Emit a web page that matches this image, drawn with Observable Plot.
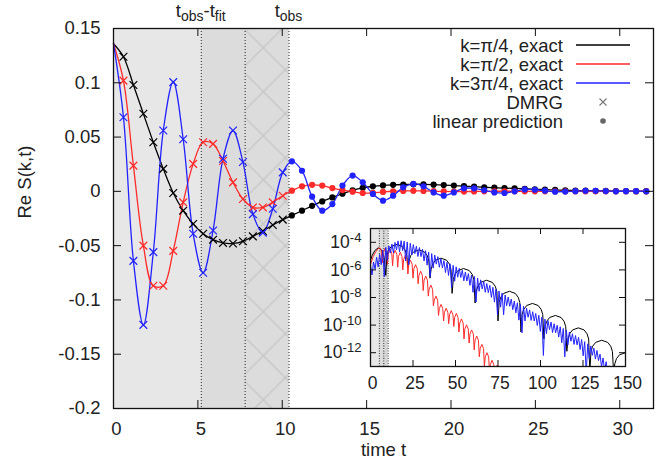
<!DOCTYPE html>
<html><head><meta charset="utf-8">
<script src="https://cdn.jsdelivr.net/npm/d3@7"></script>
<script src="https://cdn.jsdelivr.net/npm/@observablehq/plot@0.6"></script>
<style>
body{margin:0;background:#fff}
#wrap{position:relative;width:668px;height:468px;overflow:hidden;background:#fff}
#mainBox{position:absolute;left:0;top:0;width:668px;height:468px}
#insetBox{position:absolute;left:300px;top:220px;width:360px;height:180px}
</style>
</head><body>
<div id="wrap"><div id="mainBox"></div><div id="insetBox"></div></div>
<script>
// ---------------- data: main panel ----------------
const seriesNames = ["k=π/4", "k=π/2", "k=3π/4"];
const legendExtra = ["DMRG", "linear prediction"];
const xTitle = "time t";
const yTitle = "Re S(k,t)";
const xTicks = [0, 5, 10, 15, 20, 25, 30];
const yTicks = [0.15, 0.1, 0.05, 0, -0.05, -0.1, -0.15, -0.2];
const tObs = 10.4;      // t_obs
const tFit = 5.2;       // t_fit
const tHatch = 7.8;     // start of hatched window
const startValue = 0.136; // S(k,0)

const dmrgT = [0.59,1.18,1.77,2.36,2.95,3.54,4.13,4.72,5.31,5.9,6.49,7.08,7.67,8.26,8.85,9.44,10.03];
const lpT = [10.57,11.17,11.77,12.37,12.97,13.57,14.17,14.77,15.37,15.97,16.57,17.17,17.77,18.37,18.97,19.57,20.17,20.77,21.37,21.97,22.57,23.17,23.77,24.37,24.97,25.57,26.17,26.77,27.37,27.97,28.57,29.17,29.77,30.37,30.97,31.57];

const dmrgBlack = [0.124,0.098,0.0715,0.0452,0.0207,-0.0015,-0.0178,-0.030,-0.039,-0.0445,-0.0475,-0.048,-0.046,-0.0415,-0.0365,-0.031,-0.026];
const dmrgRed   = [0.102,0.0237,-0.050,-0.087,-0.087,-0.0548,-0.0101,0.0253,0.0452,0.0437,0.028,0.0083,-0.007,-0.0148,-0.0148,-0.0101,-0.004];
const dmrgBlue  = [0.0683,-0.064,-0.123,-0.056,0.056,0.1006,0.048,-0.039,-0.075,-0.036,0.030,0.056,0.027,-0.021,-0.038,-0.016,0.0175];

const lpBlack = [-0.0222,-0.0178,-0.0133,-0.0093,-0.0056,-0.0022,0.0010,0.0033,0.0046,0.0055,0.0060,0.0063,0.0065,0.0065,0.0062,0.0058,0.0053,0.0048,0.0043,0.0038,0.0034,0.0030,0.0027,0.0023,0.0019,0.0016,0.0013,0.0010,0.0008,0.0006,0.0005,0.0004,0.0003,0.0003,0.0002,0.0002];
const lpRed = [0.0006,0.0046,0.006,0.0053,0.003,0.0012,-0.0003,-0.0015,-0.0013,-0.0005,0.0001,0.0004,0.0005,0.0004,0.0002,-0.0001,-0.0002,-0.0002,-0.0001,0,0.0001,0.0001,0.0001,0,0,0,0,0,0,0,0,0,0,0,0,0];
const lpBlue = [0.0277,0.019,-0.0049,-0.0178,-0.0117,0.0053,0.0145,0.0083,-0.0024,-0.0086,-0.004,0.0037,0.0068,0.0046,-0.001,-0.004,-0.001,0.0028,0.0028,0.001,-0.001,-0.0015,0,0.0018,0.0015,0.0006,-0.0003,-0.0002,0.0002,0.0005,0.0005,0.0003,0,0.0002,0.0002,0];

// ---------------- data: inset (t, log10 value) ----------------
const insetXTicks = [0, 25, 50, 75, 100, 125, 150];
const insetYExp = [-4, -6, -8, -10, -12];
const insetBlack = [[0,-5.3],[1,-4.95],[2.5,-4.6],[4.5,-4.4],[6.5,-4.55],[8,-5.1],[9,-6.4],
[9.65,-4.96],[10.56,-4.58],[12.25,-4.3],[15.5,-4.15],[18.75,-4.3],[20.44,-4.58],[21.35,-4.96],[22,-5.8],
[22.65,-5.36],[23.56,-4.98],[25.25,-4.7],[28.5,-4.55],[31.75,-4.7],[33.44,-4.98],[34.35,-5.36],[35,-6.6],
[35.65,-5.96],[36.56,-5.58],[38.25,-5.3],[41.5,-5.15],[44.75,-5.3],[46.44,-5.58],[47.35,-5.96],[48,-7.7],
[48.68,-6.71],[49.62,-6.33],[51.38,-6.05],[54.75,-5.9],[58.13,-6.05],[59.88,-6.33],[60.83,-6.71],[61.5,-8.4],
[62.18,-7.56],[63.12,-7.18],[64.88,-6.9],[68.25,-6.75],[71.63,-6.9],[73.38,-7.18],[74.33,-7.56],[75,-9.7],
[75.68,-8.36],[76.62,-7.98],[78.38,-7.7],[81.75,-7.55],[85.13,-7.7],[86.88,-7.98],[87.83,-8.36],[88.5,-10.5],
[89.18,-9.24],[90.12,-8.86],[91.88,-8.58],[95.25,-8.43],[98.63,-8.58],[100.38,-8.86],[101.33,-9.24],[102,-11],
[102.68,-10.11],[103.62,-9.73],[105.38,-9.45],[108.75,-9.3],[112.13,-9.45],[113.88,-9.73],[114.83,-10.11],[115.5,-11.9],
[116.18,-11.01],[117.12,-10.63],[118.88,-10.35],[122.25,-10.2],[125.63,-10.35],[127.38,-10.63],[128.33,-11.01],[129,-13.4],
[129.7,-11.91],[130.68,-11.53],[132.5,-11.25],[136,-11.1],[139.5,-11.25],[141.32,-11.53],[142.3,-11.91],[143,-13.4],
[143.7,-12.81],[144.68,-12.43],[146.5,-12.15],[150,-12.0]];
const insetRed = [[0,-5.6],[1.5,-5.05],[3,-4.7],[4.5,-4.45],[5.5,-4.4],[6.3,-4.6],[7,-5.5],
[7.5,-4.75],[8.5,-4.45],[9.5,-4.75],[10,-5.6],[10.5,-4.8],[11.5,-4.5],[12.5,-4.8],[13,-5.7],
[13.5,-4.88],[14.5,-4.58],[15.5,-4.88],[16,-5.8],[16.5,-5.02],[17.5,-4.72],[18.5,-5.02],[19,-6.0],
[19.5,-5.25],[20.5,-4.95],[21.5,-5.25],[22,-6.3],[22.5,-5.6],[23.5,-5.3],[24.5,-5.6],[25,-6.6],
[25.5,-5.92],[26.5,-5.62],[27.5,-5.92],[28,-7.0],[28.5,-6.4],[29.5,-6.1],[30.5,-6.4],[31,-7.5],
[31.5,-6.75],[32.5,-6.45],[33.5,-6.75],[34,-7.9],[34.5,-7.4],[35.5,-7.1],[36.5,-7.4],[37,-8.6],
[37.5,-8.2],[38.5,-7.9],[39.5,-8.2],[40,-9.3],[40.5,-8.8],[41.5,-8.5],[42.5,-8.8],[43,-9.7],
[43.5,-9.08],[44.5,-8.78],[45.5,-9.08],[46,-9.9],[46.5,-9.25],[47.5,-8.95],[48.5,-9.25],[49,-10.1],
[49.5,-9.45],[50.5,-9.15],[51.5,-9.45],[52,-10.5],[52.5,-9.85],[53.5,-9.55],[54.5,-9.85],[55,-11.0],
[55.5,-10.28],[56.5,-9.98],[57.5,-10.28],[58,-11.3],[58.5,-10.65],[59.5,-10.35],[60.5,-10.65],[61,-11.8],
[61.5,-11.1],[62.5,-10.8],[63.5,-11.1],[64,-12.3],[64.5,-11.7],[65.5,-11.4],[66.5,-11.7],[67,-13.0],
[67.5,-12.3],[68.5,-12.0],[69.5,-12.3],[70,-13.4],[70.5,-12.85],[71.5,-12.55],[72.5,-12.85],[73,-13.4],
[73.5,-13.2],[74.5,-12.9],[75.5,-13.2],[76,-13.4]];
const insetBlue = [[0,-5.7],[0.9,-6.37],[1.8,-5.43],[2.7,-5.95],[3.6,-5.08],[4.5,-5.78],[5.4,-4.88],[6.3,-5.62],[7.2,-4.56],[8.1,-6.5],[9,-4.37],[9.9,-5.31],[10.8,-4.25],[11.7,-4.79],[12.6,-4.13],[13.5,-4.77],[14.4,-4.01],[15.3,-4.55],[16.2,-3.9],[17.1,-4.69],[18,-3.88],[18.9,-4.6],[19.8,-3.92],[20.7,-5.35],[21.6,-3.98],[22.5,-5.62],[23.4,-4.07],[24.3,-4.92],[25.2,-4.17],[26.1,-4.82],[27,-4.28],[27.9,-5.03],[28.8,-4.38],[29.7,-5.04],[30.6,-4.5],[31.5,-5.35],[32.4,-4.61],[33.3,-5.66],[34.2,-4.71],[35.1,-6.47],[36,-4.82],[36.9,-5.87],[37.8,-4.93],[38.7,-5.58],[39.6,-5.04],[40.5,-5.81],[41.4,-5.18],[42.3,-5.85],[43.2,-5.33],[44.1,-6.19],[45,-5.45],[45.9,-6.4],[46.8,-5.56],[47.7,-7.31],[48.6,-5.67],[49.5,-6.82],[50.4,-5.78],[51.3,-6.53],[52.2,-5.89],[53.1,-6.55],[54,-6.02],[54.9,-6.79],[55.8,-6.16],[56.7,-6.81],[57.6,-6.27],[58.5,-7.12],[59.4,-6.37],[60.3,-7.62],[61.2,-6.48],[62.1,-8.33],[63,-6.59],[63.9,-7.55],[64.8,-6.72],[65.7,-7.38],[66.6,-6.85],[67.5,-7.62],[68.4,-6.99],[69.3,-7.65],[70.2,-7.12],[71.1,-7.99],[72,-7.26],[72.9,-8.33],[73.8,-7.4],[74.7,-9.26],[75.6,-7.53],[76.5,-8.7],[77.4,-7.68],[78.3,-9.25],[79.2,-7.82],[80.1,-8.6],[81,-7.97],[81.9,-8.64],[82.8,-8.11],[83.7,-8.88],[84.6,-8.25],[85.5,-9.11],[86.4,-8.38],[87.3,-9.64],[88.2,-8.5],[89.1,-10.56],[90,-8.63],[90.9,-9.7],[91.8,-8.77],[92.7,-9.43],[93.6,-8.9],[94.5,-9.66],[95.4,-9.03],[96.3,-9.7],[97.2,-9.16],[98.1,-10.03],[99,-9.29],[99.9,-10.46],[100.8,-9.43],[101.7,-12.2],[102.6,-9.56],[103.5,-10.62],[104.4,-9.67],[105.3,-10.33],[106.2,-9.78],[107.1,-10.54],[108,-9.9],[108.9,-10.56],[109.8,-10.01],[110.7,-10.87],[111.6,-10.12],[112.5,-11.28],[113.4,-10.24],[114.3,-12.3],[115.2,-10.37],[116.1,-11.44],[117,-10.5],[117.9,-11.17],[118.8,-10.63],[119.7,-11.4],[120.6,-10.76],[121.5,-11.43],[122.4,-10.89],[123.3,-11.77],[124.2,-11.04],[125.1,-12.22],[126,-11.2],[126.9,-13.4],[127.8,-11.36],[128.7,-12.44],[129.6,-11.51],[130.5,-12.19],[131.4,-11.67],[132.3,-12.46],[133.2,-11.84],[134.1,-12.57],[135,-12.1],[135.9,-13.04],[136.8,-12.38],[137.7,-13.32],[138.6,-12.65],[139.5,-13.4],[140.4,-12.95],[141.3,-13.4]];

// ---------------- styles ----------------
const seriesColors = ["#000000", "#ff2a2a", "#2222ff"];
const FONT = "'Liberation Sans', Arial, Helvetica, sans-serif";

// ---------------- build tables ----------------
const dmrgSeries = [dmrgBlack, dmrgRed, dmrgBlue];
const lpSeries = [lpBlack, lpRed, lpBlue];
const insetSeries = [insetBlack, insetRed, insetBlue];
const exactRows = seriesNames.flatMap((s, k) => [
  {t: 0, v: startValue, s},
  ...dmrgT.map((t, i) => ({t, v: dmrgSeries[k][i], s})),
  ...lpT.map((t, i) => ({t, v: lpSeries[k][i], s}))
]);
const dmrgRows = seriesNames.flatMap((s, k) => dmrgT.map((t, i) => ({t, v: dmrgSeries[k][i], s})));
const lpRows = seriesNames.flatMap((s, k) => lpT.map((t, i) => ({t, v: lpSeries[k][i], s})));
const insetRows = seriesNames.flatMap((s, k) => insetSeries[k].map(([t, e]) => ({t, v: Math.pow(10, e), s})));
const insetYTicks = insetYExp.map(e => Math.pow(10, e));

// ---------------- main panel ----------------
const W = 668, H = 468, mL = 113, mR = 15, mT = 28, mB = 60;
const plotW = W - mL - mR, plotH = H - mT - mB, tk = 8;

const main = Plot.plot({
  width: W, height: H, marginLeft: mL, marginRight: mR, marginTop: mT, marginBottom: mB,
  style: {fontFamily: FONT, fontSize: "18.5px", color: "#222", background: "transparent"},
  x: {domain: [0, 32]},
  y: {domain: [-0.2, 0.15]},
  color: {domain: seriesNames, range: seriesColors},
  marks: [
    Plot.rect([{a: 0, b: tObs - tFit}], {x1: "a", x2: "b", fill: "#e7e7e7"}),
    Plot.rect([{a: tObs - tFit, b: tObs}], {x1: "a", x2: "b", fill: "#dcdcdc"}),
    Plot.rect([{a: tHatch, b: tObs}], {x1: "a", x2: "b", fill: "url(#hatchMain)"}),
    Plot.ruleX([tObs - tFit, tHatch, tObs], {stroke: "#222", strokeDasharray: "1,2", strokeWidth: 1}),
    Plot.line(exactRows, {x: "t", y: "v", z: "s", stroke: "s", curve: "catmull-rom", strokeWidth: 1.3}),
    Plot.dot(dmrgRows, {x: "t", y: "v", stroke: "s", symbol: "times", r: 3.6, strokeWidth: 1.2}),
    Plot.dot(lpRows, {x: "t", y: "v", fill: "s", r: 3.1}),
    Plot.tickX(xTicks, {x: d => d, insetTop: plotH - tk, stroke: "#111"}),
    Plot.tickX(xTicks, {x: d => d, insetBottom: plotH - tk, stroke: "#111"}),
    Plot.tickY(yTicks, {y: d => d, insetRight: plotW - tk, stroke: "#111"}),
    Plot.tickY(yTicks, {y: d => d, insetLeft: plotW - tk, stroke: "#111"}),
    Plot.frame({stroke: "#111", strokeWidth: 1.3}),
    Plot.axisX(xTicks, {tickSize: 0, tickPadding: 13, dx: 3, tickFormat: d => String(d), label: null}),
    Plot.axisY(yTicks, {tickSize: 0, tickPadding: 13, tickFormat: d => String(d), label: null}),
    Plot.text([xTitle], {frameAnchor: "bottom", dy: 47, text: d => d}),
    Plot.text([yTitle], {frameAnchor: "left", dx: -88, rotate: -90, text: d => d})
  ]
});
document.getElementById("mainBox").appendChild(main);

const msvg = d3.select(main);
// hatch pattern
const defs = msvg.insert("defs", ":first-child");
const pat = defs.append("pattern").attr("id", "hatchMain").attr("patternUnits", "userSpaceOnUse")
  .attr("x", -0.7).attr("y", 3.7).attr("width", 44).attr("height", 44);
pat.append("rect").attr("width", 44).attr("height", 44).attr("fill", "#dcdcdc");
pat.append("path").attr("d", "M0,0L44,44M0,44L44,0").attr("stroke", "#c6c6c6").attr("stroke-width", 1.3);
const pat2 = defs.append("pattern").attr("id", "hatchInset").attr("patternUnits", "userSpaceOnUse")
  .attr("width", 6).attr("height", 6);
pat2.append("rect").attr("width", 6).attr("height", 6).attr("fill", "#dcdcdc");
pat2.append("path").attr("d", "M0,0L6,6M0,6L6,0").attr("stroke", "#c6c6c6").attr("stroke-width", 0.8);

// top labels t_obs - t_fit and t_obs
const xs = main.scale("x");
const topG = msvg.append("g").attr("font-family", FONT).attr("fill", "#222").attr("text-anchor", "middle");
const lab1 = topG.append("text").attr("x", xs.apply(tObs - tFit)).attr("y", 17).attr("font-size", 18.5);
lab1.append("tspan").text("t");
lab1.append("tspan").attr("font-size", 14).attr("dy", 4).text("obs");
lab1.append("tspan").attr("dy", -4).text("-t");
lab1.append("tspan").attr("font-size", 14).attr("dy", 4).text("fit");
const lab2 = topG.append("text").attr("x", xs.apply(tObs)).attr("y", 17).attr("font-size", 18.5);
lab2.append("tspan").text("t");
lab2.append("tspan").attr("font-size", 14).attr("dy", 4).text("obs");

// legend
const legendLabels = [...seriesNames.map(n => n + ", exact"), ...legendExtra];
const lg = msvg.append("g").attr("font-family", FONT).attr("font-size", 18.5).attr("fill", "#222");
const legTop = 45, legStep = 19, legTextX = 563, legX1 = 576, legX2 = 630, legSym = 603;
legendLabels.forEach((lab, i) => {
  const y = legTop + legStep * i;
  lg.append("text").attr("x", legTextX).attr("y", y).attr("dy", "0.36em").attr("text-anchor", "end").text(lab);
  if (i < seriesNames.length) {
    lg.append("line").attr("x1", legX1).attr("x2", legX2).attr("y1", y).attr("y2", y)
      .attr("stroke", seriesColors[i]).attr("stroke-width", 1.3);
  } else if (i === seriesNames.length) {
    lg.append("path").attr("d", `M${legSym-3.5},${y-3.5}L${legSym+3.5},${y+3.5}M${legSym-3.5},${y+3.5}L${legSym+3.5},${y-3.5}`)
      .attr("stroke", "#777").attr("stroke-width", 1.1).attr("fill", "none");
  } else {
    lg.append("circle").attr("cx", legSym).attr("cy", y).attr("r", 2.8).attr("fill", "#666");
  }
});

// ---------------- inset ----------------
const iW = 360, iH = 180, imL = 70, imR = 35, imT = 8, imB = 34;
const ipW = iW - imL - imR, ipH = iH - imT - imB, itk = 6;
const inset = Plot.plot({
  width: iW, height: iH, marginLeft: imL, marginRight: imR, marginTop: imT, marginBottom: imB,
  style: {fontFamily: FONT, fontSize: "17.5px", color: "#222", background: "transparent"},
  x: {domain: [0, 150]},
  y: {type: "log", domain: [1e-13, 1e-3]},
  color: {domain: seriesNames, range: seriesColors},
  marks: [
    Plot.frame({fill: "white"}),
    Plot.rect([{a: 0, b: tObs - tFit}], {x1: "a", x2: "b", fill: "#e7e7e7"}),
    Plot.rect([{a: tObs - tFit, b: tObs}], {x1: "a", x2: "b", fill: "#dcdcdc"}),
    Plot.rect([{a: tHatch, b: tObs}], {x1: "a", x2: "b", fill: "url(#hatchInset)"}),
    Plot.ruleX([tObs - tFit, tHatch, tObs], {stroke: "#222", strokeDasharray: "1,1.5", strokeWidth: 0.9}),
    Plot.line(insetRows, {x: "t", y: "v", z: "s", stroke: "s", strokeWidth: 1, clip: true}),
    Plot.tickX(insetXTicks, {x: d => d, insetTop: ipH - itk, stroke: "#111"}),
    Plot.tickX(insetXTicks, {x: d => d, insetBottom: ipH - itk, stroke: "#111"}),
    Plot.tickY(insetYTicks, {y: d => d, insetRight: ipW - itk, stroke: "#111"}),
    Plot.tickY(insetYTicks, {y: d => d, insetLeft: ipW - itk, stroke: "#111"}),
    Plot.frame({stroke: "#111", strokeWidth: 1.3}),
    Plot.axisX(insetXTicks, {tickSize: 0, tickPadding: 10, dx: 2, tickFormat: d => String(d), label: null}),
    Plot.axisY(insetYTicks, {tickSize: 0, tickPadding: 9, tickFormat: d => "10^" + Math.round(Math.log10(d)), label: null})
  ]
});
document.getElementById("insetBox").appendChild(inset);
// superscripts for the inset y tick labels
d3.select(inset).selectAll("text").each(function() {
  const s = this.textContent;
  if (s.includes("^")) {
    const [b, e] = s.split("^");
    const t = d3.select(this);
    t.text(b);
    t.append("tspan").attr("dy", "-0.45em").attr("font-size", "0.75em").text(e.replace("−", "-"));
  }
});
</script>
</body></html>
